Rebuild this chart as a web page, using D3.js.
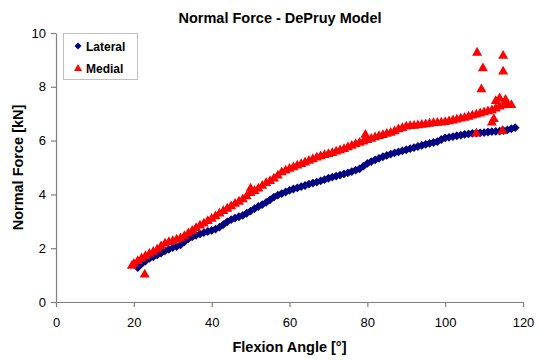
<!DOCTYPE html>
<html>
<head>
<meta charset="utf-8">
<script src="https://cdn.jsdelivr.net/npm/d3@7"></script>
<style>
  body { margin: 0; background: #fff; }
  text { font-family: Arial, "Liberation Sans", sans-serif; }
</style>
</head>
<body>
<div id="chart"></div>
<script>
const title = "Normal Force - DePruy Model";
const xLabel = "Flexion Angle [°]";
const yLabel = "Normal Force [kN]";
const xTicks = [0, 20, 40, 60, 80, 100, 120];
const yTicks = [0, 2, 4, 6, 8, 10];

const lateralAngle = [21,22,23,24,25,26,27,28,29,30,31,32,33,34,35,36,37,38,39,40,41,42,43,44,45,46,47,48,49,50,51,52,53,54,55,56,57,58,59,60,61,62,63,64,65,66,67,68,69,70,71,72,73,74,75,76,77,78,79,80,81,82,83,84,85,86,87,88,89,90,91,92,93,94,95,96,97,98,99,100,101,102,103,104,105,106,107,108,109,110,111,112,113,114,115,116,117,118];
const lateralForce = [1.28,1.42,1.52,1.62,1.68,1.75,1.82,1.9,1.96,2.02,2.06,2.12,2.24,2.35,2.42,2.48,2.53,2.58,2.62,2.66,2.71,2.78,2.88,2.98,3.06,3.12,3.17,3.22,3.3,3.38,3.47,3.55,3.62,3.7,3.8,3.9,3.97,4.03,4.09,4.15,4.2,4.24,4.29,4.33,4.38,4.42,4.46,4.5,4.55,4.6,4.64,4.68,4.72,4.76,4.8,4.85,4.9,4.95,5.05,5.15,5.22,5.28,5.34,5.4,5.45,5.5,5.54,5.58,5.62,5.66,5.7,5.74,5.78,5.82,5.86,5.9,5.93,5.96,6.04,6.1,6.12,6.15,6.18,6.2,6.23,6.25,6.27,6.28,6.29,6.3,6.32,6.33,6.34,6.35,6.37,6.4,6.44,6.48];

const medialAngle = [19.5,20,21,22,23,24,25,26,27,28,29,30,31,32,33,34,35,36,37,38,39,40,41,42,43,44,45,46,47,48,49,50,51,52,53,54,55,56,57,58,59,60,61,62,63,64,65,66,67,68,69,70,71,72,73,74,75,76,77,78,79,80,81,82,83,84,85,86,87,88,89,90,91,92,93,94,95,96,97,98,99,100,101,102,103,104,105,106,107,108,109,110,111,112,113,114,115,116,117,
  22.8,50,79.5,108.2,114.9,109.7,114.9,109.3,112.5,112,108,114.7,114,115.5,113];
const medialForce = [1.38,1.45,1.55,1.65,1.74,1.82,1.9,1.98,2.1,2.2,2.26,2.3,2.35,2.4,2.48,2.58,2.68,2.78,2.87,2.95,3.04,3.12,3.22,3.32,3.41,3.5,3.59,3.68,3.76,3.85,3.96,4.08,4.16,4.25,4.35,4.45,4.53,4.62,4.73,4.85,4.92,4.98,5.04,5.1,5.16,5.22,5.28,5.34,5.4,5.45,5.49,5.53,5.57,5.62,5.67,5.72,5.78,5.84,5.9,5.95,6.0,6.05,6.1,6.15,6.2,6.24,6.28,6.32,6.38,6.45,6.5,6.55,6.57,6.58,6.6,6.62,6.64,6.66,6.68,6.69,6.7,6.72,6.75,6.78,6.81,6.85,6.88,6.92,6.96,7.0,7.04,7.08,7.12,7.16,7.22,7.3,7.34,7.38,7.35,
  1.05,4.25,6.25,9.3,9.18,8.72,8.6,7.94,6.83,6.7,6.29,6.39,7.6,7.55,7.5];

const series = [
  { name: "Lateral", color: "#000080", shape: "diamond", x: lateralAngle, y: lateralForce },
  { name: "Medial", color: "#ff0000", shape: "triangle", x: medialAngle, y: medialForce }
];

const W = 539, H = 360;
const margin = { top: 33, right: 16, bottom: 58, left: 56 };
const width = W - margin.left - margin.right;
const height = H - margin.top - margin.bottom;

const shapes = {
  diamond: "M0,-4.4L4.4,0L0,4.4L-4.4,0Z",
  triangle: "M0,-5L5,3.8L-5,3.8Z"
};

const svg = d3.select("#chart").append("svg")
  .attr("width", W)
  .attr("height", H);

svg.append("text")
  .attr("x", 280)
  .attr("y", 23)
  .attr("text-anchor", "middle")
  .attr("font-size", 14.5)
  .attr("font-weight", "bold")
  .text(title);

const chart = svg.append("g")
  .attr("transform", `translate(${margin.left},${margin.top})`);

const x = d3.scaleLinear().domain([0, 120]).range([0, width]);
const y = d3.scaleLinear().domain([0, 10]).range([height, 0]);

const xAxis = chart.append("g")
  .attr("transform", `translate(0,${height})`)
  .call(d3.axisBottom(x).tickValues(xTicks).tickSize(5).tickSizeOuter(0));

const yAxis = chart.append("g")
  .call(d3.axisLeft(y).tickValues(yTicks).tickSize(5).tickSizeOuter(0));

[xAxis, yAxis].forEach(a => {
  a.select(".domain").attr("stroke", "#808080").attr("stroke-width", 1.2);
  a.selectAll(".tick line").attr("stroke", "#808080").attr("stroke-width", 1.2);
  a.selectAll(".tick text").attr("font-size", 13).attr("fill", "#000")
    .attr("font-family", "Arial, 'Liberation Sans', sans-serif");
});
yAxis.selectAll(".tick text").attr("x", -10);
xAxis.selectAll(".tick text").attr("y", 16);

svg.append("text")
  .attr("x", margin.left + width / 2)
  .attr("y", 352)
  .attr("text-anchor", "middle")
  .attr("font-size", 14.5)
  .attr("font-weight", "bold")
  .text(xLabel);

svg.append("text")
  .attr("transform", `translate(23,${margin.top + height / 2}) rotate(-90)`)
  .attr("text-anchor", "middle")
  .attr("font-size", 14.5)
  .attr("font-weight", "bold")
  .text(yLabel);

series.forEach(s => {
  const pts = s.x.map((v, i) => ({ a: v, f: s.y[i] }));
  chart.append("g").selectAll("path")
    .data(pts)
    .join("path")
    .attr("d", shapes[s.shape])
    .attr("transform", d => `translate(${x(d.a)},${y(d.f)})`)
    .attr("fill", s.color);
});

// legend
const legend = svg.append("g").attr("transform", "translate(63,33)");
legend.append("rect")
  .attr("x", 0.5).attr("y", 0.5)
  .attr("width", 74).attr("height", 46)
  .attr("fill", "#fff")
  .attr("stroke", "#808080")
  .attr("stroke-dasharray", "1,1");

series.forEach((s, i) => {
  const g = legend.append("g").attr("transform", `translate(15,${13 + i * 22})`);
  g.append("path").attr("d", shapes[s.shape]).attr("fill", s.color)
    .attr("transform", "scale(0.8)");
  g.append("text")
    .attr("x", 8)
    .attr("y", 4.5)
    .attr("font-size", 12)
    .attr("font-weight", "bold")
    .text(s.name);
});
</script>
</body>
</html>
